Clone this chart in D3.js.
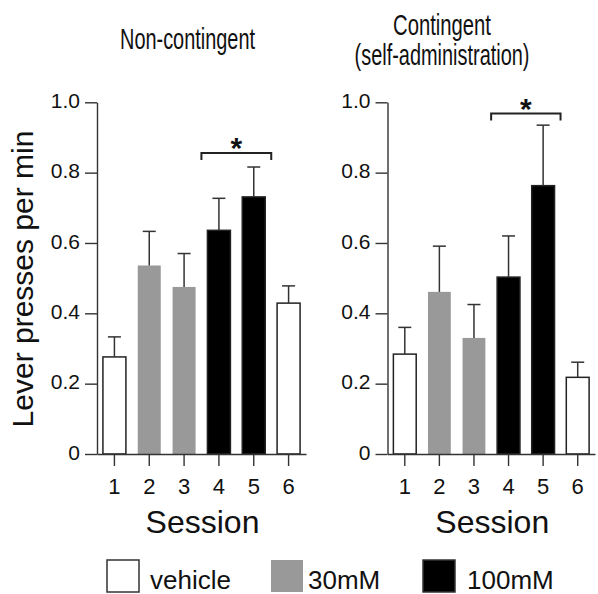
<!DOCTYPE html>
<html>
<head>
<meta charset="utf-8">
<script src="https://cdn.jsdelivr.net/npm/d3@7"></script>
<style>
  body { margin: 0; background: #fff; }
  text { font-family: "Liberation Sans", Arial, sans-serif; fill: #111; }
  .axis path, .axis line { stroke: #333; stroke-width: 1.4; }
</style>
</head>
<body>
<script>
// data
var sessions = ["1", "2", "3", "4", "5", "6"];
var dose = ["vehicle", "30mM", "30mM", "100mM", "100mM", "vehicle"];
var nonContMean = [0.276, 0.536, 0.475, 0.636, 0.731, 0.429];
var nonContSem  = [0.057, 0.097, 0.095, 0.091, 0.085, 0.049];
var contMean = [0.284, 0.461, 0.330, 0.503, 0.763, 0.218];
var contSem  = [0.076, 0.130, 0.095, 0.117, 0.172, 0.043];
var yTicks = [0, 0.2, 0.4, 0.6, 0.8, 1.0];
var legendLabels = ["vehicle", "30mM", "100mM"];
var legendColors = ["#ffffff", "#999999", "#000000"];
var sigPair = [3, 4];          // sessions 4 and 5
var sigLevel = [0.856, 0.968]; // bracket height per panel

var width = 598, height = 594;
var color = d3.scaleOrdinal().domain(legendLabels).range(legendColors);

var svg = d3.select("body").append("svg")
  .attr("width", width)
  .attr("height", height);

var y = d3.scaleLinear().domain([0, 1]).range([454, 102.3]);

var panels = [
  { title: ["Non-contingent"], titleLen: [135], titleY: [48.5], titleX: 187.5,
    range: [97, 306], mean: nonContMean, sem: nonContSem, sig: sigLevel[0] },
  { title: ["Contingent", "(self-administration)"], titleLen: [98, 175], titleY: [35, 65], titleX: 442,
    range: [387.5, 595], mean: contMean, sem: contSem, sig: sigLevel[1] }
];

panels.forEach(function(p) {
  var x = d3.scaleBand()
    .domain(sessions)
    .range(p.range)
    .paddingInner(0.34)
    .paddingOuter(0.17);
  var bw = x.bandwidth();
  var g = svg.append("g");

  // title (narrow face: squeeze horizontally)
  p.title.forEach(function(t, i) {
    var tt = g.append("text")
      .attr("text-anchor", "middle")
      .attr("font-size", 29)
      .text(t);
    var sx = p.titleLen[i] / tt.node().getComputedTextLength();
    tt.attr("transform", "translate(" + p.titleX + "," + p.titleY[i] + ") scale(" + sx + ",1)");
  });

  // bars
  g.selectAll("rect.bar")
    .data(p.mean)
    .enter()
    .append("rect")
    .attr("class", "bar")
    .attr("x", function(d, i) { return x(sessions[i]); })
    .attr("width", bw)
    .attr("y", function(d) { return y(d); })
    .attr("height", function(d) { return y(0) - y(d); })
    .attr("fill", function(d, i) { return color(dose[i]); })
    .attr("stroke", function(d, i) { return dose[i] === "30mM" ? "none" : "#222"; })
    .attr("stroke-width", 1.5);

  // error bars
  var eb = g.selectAll("g.err")
    .data(p.mean)
    .enter()
    .append("g")
    .attr("class", "err")
    .attr("stroke", "#333")
    .attr("stroke-width", 1.5);
  eb.append("line")
    .attr("x1", function(d, i) { return x(sessions[i]) + bw / 2; })
    .attr("x2", function(d, i) { return x(sessions[i]) + bw / 2; })
    .attr("y1", function(d) { return y(d); })
    .attr("y2", function(d, i) { return y(d + p.sem[i]); });
  eb.append("line")
    .attr("x1", function(d, i) { return x(sessions[i]) + bw / 2 - 6.5; })
    .attr("x2", function(d, i) { return x(sessions[i]) + bw / 2 + 6.5; })
    .attr("y1", function(d, i) { return y(d + p.sem[i]); })
    .attr("y2", function(d, i) { return y(d + p.sem[i]); });

  // axes
  var yAxis = d3.axisLeft(y)
    .tickValues(yTicks)
    .tickSize(12)
    .tickSizeOuter(0)
    .tickPadding(5)
    .tickFormat(function(d) { return d === 0 ? "0" : d3.format(".1f")(d); });
  var ya = g.append("g")
    .attr("class", "axis")
    .attr("transform", "translate(" + p.range[0] + ",0)")
    .call(yAxis);
  ya.selectAll("text").attr("font-size", 21).attr("dy", "0.25em").attr("fill", "#111");

  var xAxis = d3.axisBottom(x)
    .tickSize(12)
    .tickSizeOuter(0)
    .tickPadding(12);
  var xa = g.append("g")
    .attr("class", "axis")
    .attr("transform", "translate(0," + y(0) + ")")
    .call(xAxis);
  xa.selectAll("text").attr("font-size", 22).attr("fill", "#111");

  g.append("text")
    .attr("x", (p.range[0] + p.range[1]) / 2 + 1)
    .attr("y", 533)
    .attr("text-anchor", "middle")
    .attr("font-size", 32)
    .text("Session");

  // significance bracket
  var bx1 = x(sessions[sigPair[0]]) - 6;
  var bx2 = x(sessions[sigPair[1]]) + bw + 6;
  var by = y(p.sig);
  g.append("path")
    .attr("d", "M" + bx1 + "," + (by + 7) + "V" + by + "H" + bx2 + "V" + (by + 7))
    .attr("fill", "none")
    .attr("stroke", "#222")
    .attr("stroke-width", 2);
  g.append("text")
    .attr("x", (bx1 + bx2) / 2)
    .attr("y", by + 5)
    .attr("text-anchor", "middle")
    .attr("font-size", 30)
    .attr("font-weight", "bold")
    .text("*");
});

// y axis title
svg.append("text")
  .attr("transform", "translate(33,279) rotate(-90)")
  .attr("text-anchor", "middle")
  .attr("font-size", 30)
  .text("Lever presses per min");

// legend
var legX = [107, 271, 423];
var legTextX = [150, 308, 467];
var leg = svg.selectAll("g.leg")
  .data(legendLabels)
  .enter()
  .append("g")
  .attr("class", "leg");
leg.append("rect")
  .attr("x", function(d, i) { return legX[i]; })
  .attr("y", 560)
  .attr("width", 32)
  .attr("height", 32)
  .attr("fill", function(d) { return color(d); })
  .attr("stroke", function(d) { return d === "30mM" ? "none" : "#333"; })
  .attr("stroke-width", 1.5);
leg.append("text")
  .attr("x", function(d, i) { return legTextX[i]; })
  .attr("y", 589)
  .attr("font-size", 26)
  .text(function(d) { return d; });
</script>
</body>
</html>
